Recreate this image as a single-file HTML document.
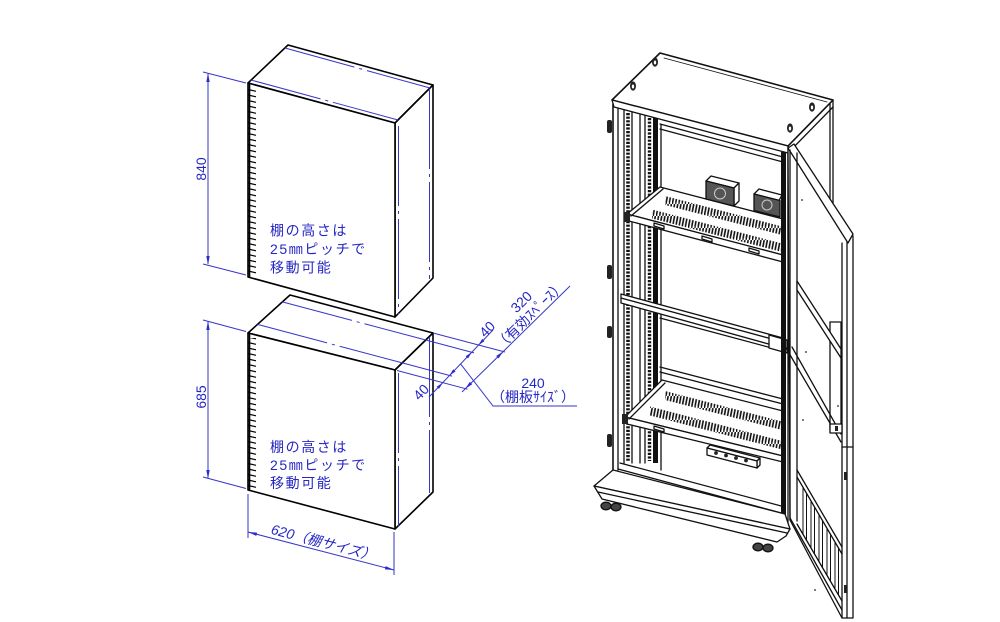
<!DOCTYPE html>
<html><head><meta charset="utf-8">
<style>
html,body{margin:0;padding:0;background:#fff;width:1000px;height:622px;overflow:hidden}
svg{display:block}
.t{font-family:"Liberation Sans","Noto Sans CJK JP",sans-serif;fill:#2626c4;font-size:14px}
.j{font-family:"Liberation Sans","Noto Sans CJK JP",sans-serif;fill:#2626c4;font-size:14px;letter-spacing:1.6px}
</style></head><body>
<svg width="1000" height="622" viewBox="0 0 1000 622" xmlns="http://www.w3.org/2000/svg">
<defs>
<pattern id="vent" width="3.2" height="12" patternUnits="userSpaceOnUse">
<line x1="0.3" y1="12" x2="2.6" y2="0" stroke="#111" stroke-width="1.6"/>
</pattern>
<pattern id="tick" x="248" y="0" width="12" height="5.5" patternUnits="userSpaceOnUse">
<line x1="0" y1="1.5" x2="8" y2="3.3" stroke="#000" stroke-width="1.2"/>
</pattern>
</defs>
<rect width="1000" height="622" fill="#fff"/>

<!-- ============ UPPER BOX ============ -->
<g stroke="#000" stroke-width="1.6" fill="#fff" stroke-linejoin="round">
<polygon points="248,83 288,45 433,85 395,123"/>
<polygon points="395,123 433,85 433,278 395,317"/>
<polygon points="248,83 395,123 395,317 248,277"/>
</g>
<line x1="249.5" y1="84" x2="249.5" y2="277" stroke="#000" stroke-width="1.6"/>
<rect x="248" y="88" width="10" height="187" fill="url(#tick)"/>

<!-- ============ LOWER BOX ============ -->
<g stroke="#000" stroke-width="1.6" fill="#fff" stroke-linejoin="round">
<polygon points="248,333 290,295 433,333 395,370"/>
<polygon points="395,370 433,333 433,492 395,529"/>
<polygon points="248,333 395,370 395,529 248,490"/>
</g>
<line x1="249.5" y1="334" x2="249.5" y2="490" stroke="#000" stroke-width="1.6"/>
<rect x="248" y="338" width="10" height="150" fill="url(#tick)"/>

<!-- ============ BLUE LINES ============ -->
<g stroke="#3636c8" stroke-width="1" fill="none">
<line x1="285" y1="48" x2="430" y2="88" stroke-dasharray="72 5 3 5"/>
<line x1="251" y1="80" x2="398" y2="120" stroke-dasharray="72 5 3 5"/>
<line x1="398.5" y1="126" x2="398.5" y2="314" stroke-dasharray="80 5 3 5"/>
<line x1="429.5" y1="89" x2="429.5" y2="279" stroke-dasharray="80 5 3 5"/>
<line x1="282.3" y1="301.9" x2="425.7" y2="340" stroke-dasharray="72 5 3 5"/>
<line x1="257.5" y1="324.4" x2="402.3" y2="362.9" stroke-dasharray="72 5 3 5"/>
<line x1="398.5" y1="373" x2="398.5" y2="526" stroke-dasharray="80 5 3 5"/>
<line x1="429.5" y1="337" x2="429.5" y2="493" stroke-dasharray="80 5 3 5"/>
<line x1="433" y1="333" x2="505" y2="352"/>
<line x1="425.7" y1="340" x2="474" y2="352.9"/>
<line x1="402.3" y1="362.9" x2="452" y2="376.1"/>
<line x1="397" y1="370.5" x2="467.5" y2="389.2"/>
<line x1="429" y1="397" x2="493" y2="330"/>
<line x1="462" y1="392" x2="570" y2="286"/>
<polyline points="460.6,363.9 493,406 577,406"/>
<line x1="208" y1="74" x2="208" y2="264"/>
<line x1="203" y1="72" x2="246" y2="83"/>
<line x1="203" y1="264" x2="246" y2="275"/>
<line x1="208" y1="322" x2="208" y2="478"/>
<line x1="203" y1="320" x2="246" y2="331.5"/>
<line x1="203" y1="477" x2="246" y2="488.5"/>
<line x1="248" y1="494" x2="248" y2="538"/>
<line x1="394" y1="532" x2="394" y2="575"/>
<line x1="248" y1="532" x2="394" y2="570"/>
</g>
<g fill="#2a2ad0" stroke="none">
<polygon points="208,73 206.3,82 209.7,82"/>
<polygon points="208,265 206.3,256 209.7,256"/>
<polygon points="208,321 206.3,330 209.7,330"/>
<polygon points="208,479 206.3,470 209.7,470"/>
<polygon points="248,532 256.3,535.9 257.1,532.6"/>
<polygon points="394,570 384.9,569.4 385.7,566.1"/>
<polygon points="478.5,345.1 484.5,341.1 482.2,338.9"/>
<polygon points="471.7,352.3 468,358.5 465.7,356.3"/>
<polygon points="449.5,375.5 455.5,371.5 453.2,369.3"/>
<polygon points="442.7,382.7 439,388.9 436.7,386.7"/>
<polygon points="465.3,388.7 472.2,384.3 469.8,381.9"/>
<polygon points="503.1,351.6 498.6,358.4 496.2,356"/>
</g>

<!-- ============ BLUE TEXT ============ -->
<text class="t" transform="translate(201,169) rotate(-90)" text-anchor="middle" y="5">840</text>
<text class="t" transform="translate(201,397) rotate(-90)" text-anchor="middle" y="5">685</text>
<g transform="translate(321,551) rotate(14.6)"><text class="t" font-style="italic" text-anchor="middle" y="-4" font-size="13.5">620（棚サイズ）</text></g>
<text class="t" transform="translate(487,329) rotate(-46)" text-anchor="middle" y="5">40</text>
<text class="t" transform="translate(421,392) rotate(-46)" text-anchor="middle" y="5">40</text>
<g transform="translate(530,315) rotate(-44.5)">
<text class="t" x="3" y="-10.5" text-anchor="middle">320</text>
<text class="t" y="5" text-anchor="middle" font-size="13">（有効ｽﾍﾟｰｽ）</text>
</g>
<text class="t" x="533" y="388" text-anchor="middle">240</text>
<text class="t" x="533" y="402" text-anchor="middle" font-size="13">（棚板ｻｲｽﾞ）</text>

<text class="j" x="270" y="235.5">棚の高さは</text>
<text class="j" x="270" y="254">25㎜ピッチで</text>
<text class="j" x="270" y="272.5">移動可能</text>
<text class="j" x="270" y="452">棚の高さは</text>
<text class="j" x="270" y="470">25㎜ピッチで</text>
<text class="j" x="270" y="488">移動可能</text>

<!-- ============ RACK ============ -->
<g stroke="#111" stroke-width="1.3" fill="none" stroke-linejoin="round" stroke-linecap="round">
<polygon points="788,146 833,100 833,240 788,240" fill="#fff"/>
<line x1="830" y1="104" x2="830" y2="215"/>
<polygon points="612,100 660,53 833,100 788,146" fill="#fff" stroke-width="1.6"/>
<line x1="664" y1="58" x2="827" y2="102" stroke-width="0.8"/>
<polygon points="612,100 788,146 788,153 614,107" fill="#fff"/>
<line x1="788" y1="153" x2="833" y2="107"/>
<line x1="660" y1="124" x2="783" y2="157"/>
<line x1="660" y1="129" x2="783" y2="162"/>
<line x1="660" y1="318" x2="783" y2="351"/>
<line x1="660" y1="367" x2="783" y2="399"/>
<line x1="660" y1="372" x2="783" y2="404"/>
<line x1="620" y1="463" x2="785" y2="507"/>
<line x1="618" y1="469" x2="785" y2="514"/>
<line x1="613" y1="104" x2="613" y2="472" stroke-width="1.6"/>
<line x1="618" y1="108" x2="618" y2="470"/>
<line x1="624" y1="110" x2="624" y2="463"/>
<line x1="632" y1="112" x2="632" y2="463"/>
<line x1="628" y1="113" x2="628" y2="461" stroke-width="3.6" stroke-dasharray="2.2 1.4" stroke-linecap="butt"/>
<line x1="640" y1="115" x2="640" y2="463"/>
<line x1="645" y1="116" x2="645" y2="463"/>
<line x1="649.5" y1="118" x2="649.5" y2="461" stroke-width="3.4" stroke-dasharray="2.2 1.4" stroke-linecap="butt"/>
<rect x="653" y="118" width="5" height="345" fill="#111" stroke="none"/>
<line x1="661" y1="125" x2="661" y2="470"/>

<!-- upper shelf -->
<polygon points="660,187 783,219 783,255 627,214" fill="#fff"/>
<polygon points="627,214 783,255 783,262 629,221" fill="#fff"/>
<line x1="631" y1="216" x2="663" y2="189"/>
<polygon points="665,196 782,226.5 782,235 665,205" fill="url(#vent)" stroke="none"/>
<polygon points="652,209.5 782,243.5 782,252 652,218.5" fill="url(#vent)" stroke="none"/>
<rect x="624" y="212" width="6" height="10" fill="#222" stroke="none"/>
<polygon points="654,223 664,226 664,229 654,226" fill="#fff"/>
<polygon points="702,236 712,239 712,242 702,239" fill="#fff"/>
<polygon points="749,248 759,251 759,254 749,251" fill="#fff"/>
<polygon points="706,181 711,176 739,183 734,188" fill="#fff"/>
<polygon points="734,188 739,183 739,201 734,206" fill="#fff"/>
<polygon points="706,181 734,188 734,206 706,199" fill="#555"/>
<circle cx="720" cy="193.5" r="5.5" stroke="#ccc" stroke-width="1"/>
<polygon points="754,194 759,189 782,195 779,200.5" fill="#fff"/>
<polygon points="754,194 780,200.5 780,217 754,210.5" fill="#555"/>
<circle cx="767" cy="205" r="5" stroke="#ccc" stroke-width="1"/>

<!-- middle beam -->
<polygon points="621,294 783,338 783,348 621,303" fill="#fff"/>
<line x1="621" y1="298" x2="783" y2="342"/>
<polygon points="769,335 787,340 787,353 769,348" fill="#fff"/>

<!-- lower shelf -->
<polygon points="662,380 783,411 783,456 625,417" fill="#fff"/>
<polygon points="625,417 783,456 783,462 627,424" fill="#fff"/>
<line x1="629" y1="419" x2="665" y2="383"/>
<polygon points="665,391 782,421.5 782,430 665,400" fill="url(#vent)" stroke="none"/>
<polygon points="650,406.5 782,441 782,449.5 650,415.5" fill="url(#vent)" stroke="none"/>
<rect x="622" y="414" width="6" height="10" fill="#222" stroke="none"/>
<polygon points="654,426 664,429 664,432 654,429" fill="#fff"/>
<polygon points="707,448 710,445 760,458 757,461" fill="#fff"/>
<polygon points="757,461 760,458 760,465 757,468" fill="#fff"/>
<polygon points="707,448 757,461 757,468 707,455" fill="#fff"/>
<g fill="#222" stroke="none">
<circle cx="716" cy="453" r="1.9"/><circle cx="726" cy="455.5" r="1.9"/>
<circle cx="736" cy="458" r="1.9"/><circle cx="746" cy="460.5" r="1.9"/>
</g>

<rect x="781" y="152" width="5" height="370" fill="#111" stroke="none"/>
<line x1="788" y1="153" x2="788" y2="522"/>

<!-- base -->
<polygon points="594,486 613,470 785,514 790,529" fill="#fff"/>
<polygon points="594,486 790,529 786,536 777,542 602,499" fill="#fff"/>
<line x1="598" y1="492" x2="787" y2="533"/>
<g fill="#444">
<ellipse cx="606" cy="506" rx="5" ry="3.8"/><ellipse cx="616" cy="507" rx="5" ry="3.8"/>
<ellipse cx="758" cy="547" rx="5" ry="3.8"/><ellipse cx="768" cy="548" rx="5" ry="3.8"/>
</g>

<g fill="#222" stroke="none">
<rect x="607" y="120" width="5" height="13" rx="2"/>
<rect x="607" y="265" width="5" height="14" rx="2"/>
<rect x="607" y="326" width="5" height="12" rx="2"/>
<rect x="607" y="434" width="5" height="13" rx="2"/>
</g>

<g stroke="none">
<ellipse cx="655" cy="62" rx="3" ry="4.6" fill="#222"/><ellipse cx="655" cy="62.5" rx="1.2" ry="2" fill="#fff"/>
<ellipse cx="633" cy="86" rx="3" ry="4.6" fill="#222"/><ellipse cx="633" cy="86.5" rx="1.2" ry="2" fill="#fff"/>
<ellipse cx="812" cy="107" rx="3" ry="4.6" fill="#222"/><ellipse cx="812" cy="107.5" rx="1.2" ry="2" fill="#fff"/>
<ellipse cx="790" cy="128" rx="3" ry="4.6" fill="#222"/><ellipse cx="790" cy="128.5" rx="1.2" ry="2" fill="#fff"/>
</g>

<!-- door -->
<polygon points="788,147 853,236 853,618 842,618 790,520" fill="#fff"/>
<polygon points="788,148 794,144 853,234 848,243" fill="#fff"/>
<line x1="842" y1="243" x2="842" y2="618"/>
<line x1="847" y1="242" x2="847" y2="618"/>
<line x1="790" y1="150" x2="790" y2="520"/>
<line x1="797" y1="153" x2="797" y2="521"/>
<rect x="830" y="322" width="11" height="108" fill="#fff"/>
<polygon points="797,281 841,349 841,358 797,290" fill="#fff"/>
<line x1="786" y1="348" x2="841" y2="442"/>
<line x1="792" y1="347" x2="841" y2="434"/>
<rect x="830" y="424" width="12" height="9" fill="#fff"/>
<line x1="842" y1="447" x2="853" y2="447"/>
<line x1="797" y1="470" x2="842" y2="547"/>
<line x1="797" y1="477" x2="842" y2="554"/>
<line x1="790" y1="518" x2="842" y2="610"/>
<line x1="797" y1="524" x2="842" y2="601"/>
<g stroke-width="1">
<line x1="803" y1="487.3" x2="803" y2="534.3"/><line x1="806.5" y1="493.3" x2="806.5" y2="540.3"/>
<line x1="811" y1="501" x2="811" y2="548"/><line x1="814.5" y1="507" x2="814.5" y2="554"/>
<line x1="819" y1="514.6" x2="819" y2="561.6"/><line x1="822.5" y1="520.6" x2="822.5" y2="567.6"/>
<line x1="827" y1="528.3" x2="827" y2="575.3"/><line x1="830.5" y1="534.3" x2="830.5" y2="581.3"/>
<line x1="835" y1="542" x2="835" y2="589"/><line x1="838.5" y1="548" x2="838.5" y2="595"/>
</g>
<g fill="#222" stroke="none">
<rect x="844" y="472" width="3" height="8"/>
<rect x="844" y="585" width="3" height="8"/>
<rect x="835" y="426" width="3" height="5"/>
<circle cx="802" cy="200" r="0.9"/><circle cx="806" cy="352" r="0.9"/>
<circle cx="803" cy="420" r="0.9"/><circle cx="815" cy="590" r="0.9"/>
<circle cx="838" cy="406" r="0.9"/>
</g>
</g>
</svg>
</body></html>
